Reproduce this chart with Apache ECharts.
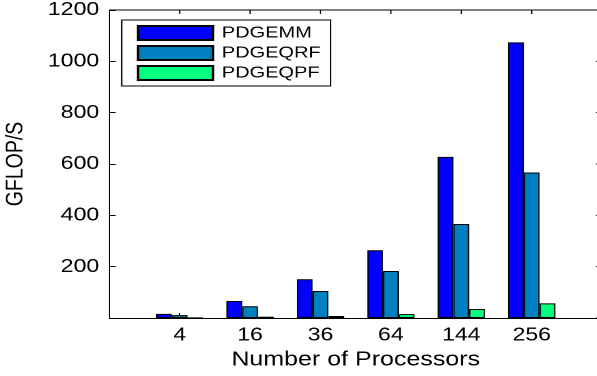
<!DOCTYPE html>
<html>
<head>
<meta charset="utf-8">
<script src="https://cdn.jsdelivr.net/npm/echarts@6/dist/echarts.min.js"></script>
<style>
  html, body { margin: 0; padding: 0; background: #fff; overflow: hidden; }
  /* the reference is stretched horizontally, so draw narrow and stretch */
  #chart { width: 477.6px; height: 376px; transform: scaleX(1.25); transform-origin: 0 0; }
</style>
</head>
<body>
<div id="chart"></div>
<script>
// processors on x, GFLOP/S on y
var procs = ['4', '16', '36', '64', '144', '256']
var gemm = [16, 66, 151, 264, 628, 1074]
var geqrf = [11, 46, 105, 183, 366, 567]
var geqpf = [1, 5, 8, 15, 35, 57]
var yTicks = [0, 200, 400, 600, 800, 1000, 1200]

var font = 'Liberation Sans, Arial, Helvetica, sans-serif'
var chart = echarts.init(document.getElementById('chart'), null, { devicePixelRatio: 2 })

var xMax = 7
var yMax = yTicks[yTicks.length - 1]

function toPoints (vals) {
  return vals.map(function (v, i) { return [i + 1, v] })
}

function barSeries (name, vals, color) {
  return {
    name: name,
    type: 'bar',
    data: toPoints(vals),
    barWidth: 12.6,
    barGap: '0%',
    itemStyle: {
      color: color,
      borderColor: '#000',
      borderWidth: 1
    }
  }
}

function boxLine () {
  return { show: true, onZero: false, lineStyle: { color: '#000', width: 1 } }
}
function boxTick () {
  return { show: true, inside: true, length: 5, lineStyle: { color: '#000' } }
}

chart.setOption({
  animation: false,
  textStyle: { fontFamily: font },
  grid: {
    left: 87.4,
    top: 10,
    width: 394.3,
    height: 308,
    outerBoundsMode: 'none'
  },
  legend: {
    orient: 'vertical',
    left: 97.4,
    top: 20,
    padding: [5, 8, 5, 12],
    itemGap: 4,
    itemWidth: 60,
    itemHeight: 14,
    backgroundColor: '#fff',
    borderColor: '#000',
    borderWidth: 1,
    borderRadius: 0,
    icon: 'rect',
    textStyle: {
      fontFamily: font,
      fontSize: 16,
      color: '#000',
      lineHeight: 16,
      padding: [0, 0, 0, 2]
    },
    data: ['PDGEMM', 'PDGEQRF', 'PDGEQPF']
  },
  xAxis: {
    type: 'value',
    min: 0,
    max: xMax,
    interval: 1,
    position: 'bottom',
    name: 'Number of Processors',
    nameLocation: 'middle',
    nameGap: 29,
    nameTextStyle: { fontFamily: font, fontSize: 20, color: '#000' },
    axisLine: boxLine(),
    axisTick: boxTick(),
    axisLabel: {
      fontFamily: font,
      fontSize: 18.5,
      color: '#000',
      margin: 8,
      formatter: function (v) { return procs[v - 1] || '' }
    },
    splitLine: { show: false }
  },
  yAxis: {
    type: 'value',
    min: yTicks[0],
    max: yMax,
    interval: 200,
    position: 'left',
    name: 'GFLOP/S',
    nameLocation: 'middle',
    nameGap: 65,
    nameTextStyle: { fontFamily: font, fontSize: 19.5, color: '#000' },
    axisLine: boxLine(),
    axisTick: boxTick(),
    axisLabel: {
      fontFamily: font,
      fontSize: 18.5,
      color: '#000',
      margin: 8,
      formatter: function (v) { return v === 0 ? '' : String(v) }
    },
    splitLine: { show: false }
  },
  series: [
    barSeries('PDGEMM', gemm, '#0000ff'),
    barSeries('PDGEQRF', geqrf, '#0080c0'),
    barSeries('PDGEQPF', geqpf, '#00ff80')
  ]
})

// top and right edges of the box, placed through the axes' own scales
function px (x, y) {
  return chart.convertToPixel({ xAxisIndex: 0, yAxisIndex: 0 }, [x, y])
}
function seg (x1, y1, x2, y2) {
  return {
    type: 'line',
    z: 100,
    silent: true,
    shape: { x1: x1, y1: y1, x2: x2, y2: y2 },
    style: { stroke: '#000', lineWidth: 1 }
  }
}

var frame = []
var tl = px(0, yMax)
var tr = px(xMax, yMax)
var br = px(xMax, 0)
frame.push(seg(tl[0], tl[1], tr[0], tr[1]))
frame.push(seg(tr[0], tr[1], br[0], br[1]))
procs.forEach(function (p, i) {
  var t = px(i + 1, yMax)
  frame.push(seg(t[0], t[1], t[0], t[1] + 4))
})
yTicks.forEach(function (v) {
  var t = px(xMax, v)
  frame.push(seg(t[0] - 5, t[1], t[0], t[1]))
})
chart.setOption({ graphic: frame })
</script>
</body>
</html>
